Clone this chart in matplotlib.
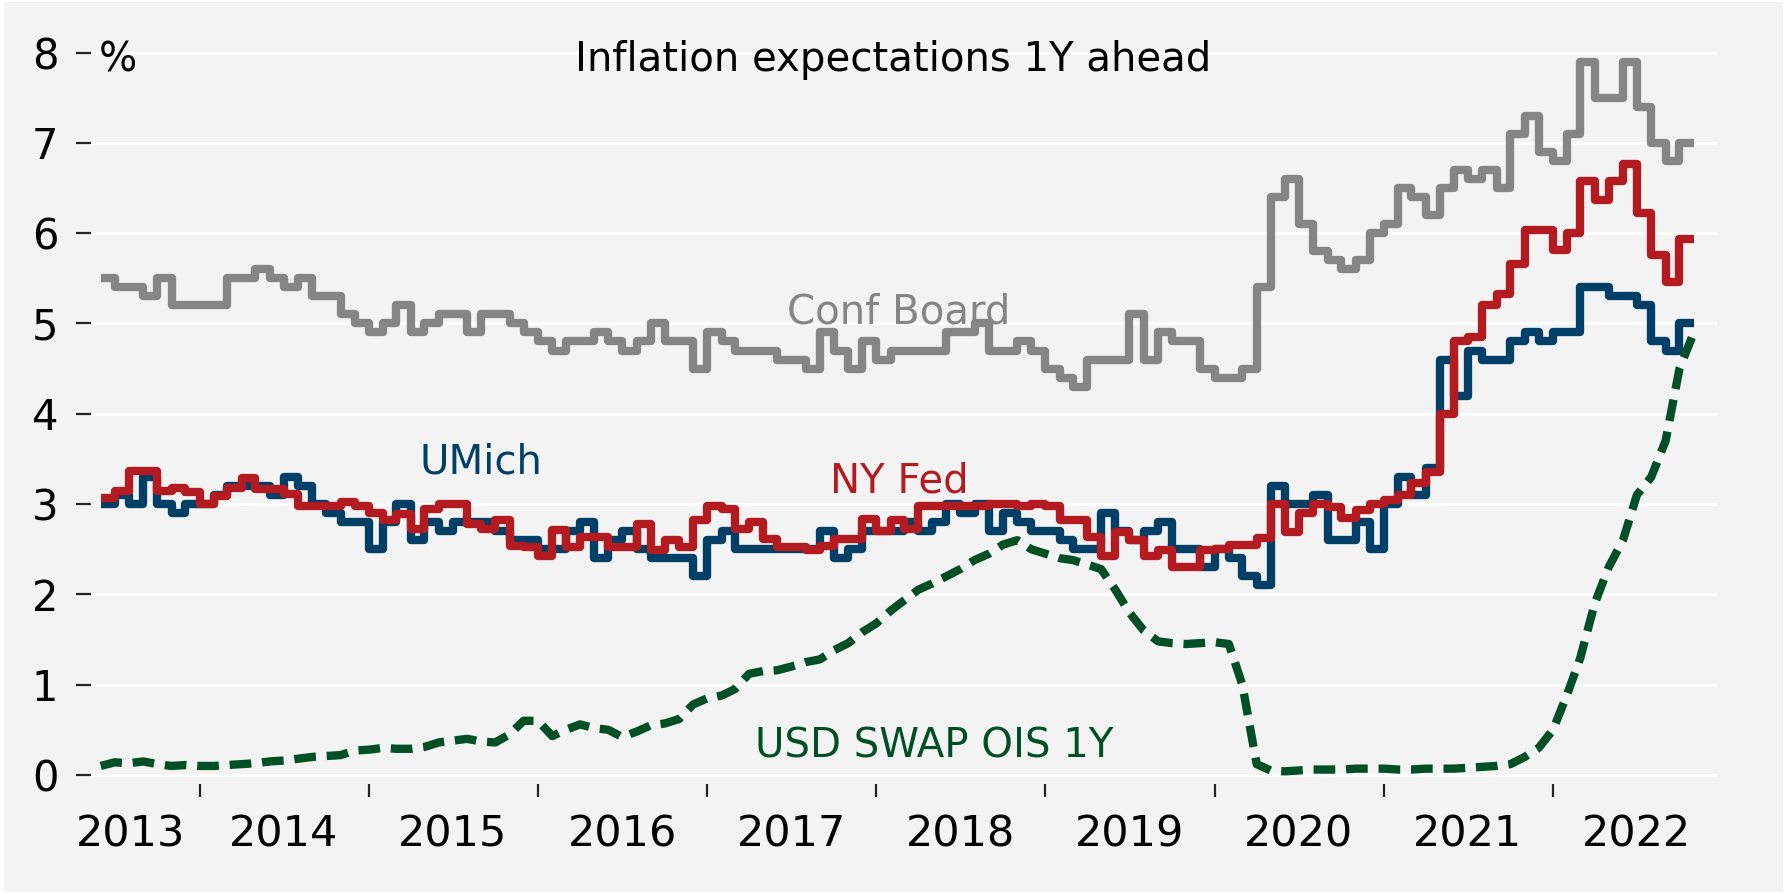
import matplotlib
matplotlib.use('Agg')

import matplotlib.pyplot as plt
import matplotlib.dates as mdates
import matplotlib.patches as patches
import pandas as pd

# monthly survey values, Jun 2013 .. Oct 2022
conf_board = [
    5.5, 5.4, 5.4, 5.3, 5.5, 5.2, 5.2,
    5.2, 5.2, 5.5, 5.5, 5.6, 5.5, 5.4, 5.5, 5.3, 5.3, 5.1, 5.0,
    4.9, 5.0, 5.2, 4.9, 5.0, 5.1, 5.1, 4.9, 5.1, 5.1, 5.0, 4.9,
    4.8, 4.7, 4.8, 4.8, 4.9, 4.8, 4.7, 4.8, 5.0, 4.8, 4.8, 4.5,
    4.9, 4.8, 4.7, 4.7, 4.7, 4.6, 4.6, 4.5, 4.9, 4.7, 4.5, 4.8,
    4.6, 4.7, 4.7, 4.7, 4.7, 4.9, 4.9, 5.0, 4.7, 4.7, 4.8, 4.7,
    4.5, 4.4, 4.3, 4.6, 4.6, 4.6, 5.1, 4.6, 4.9, 4.8, 4.8, 4.5,
    4.4, 4.4, 4.5, 5.4, 6.4, 6.6, 6.1, 5.8, 5.7, 5.6, 5.7, 6.0,
    6.1, 6.5, 6.4, 6.2, 6.5, 6.7, 6.6, 6.7, 6.5, 7.1, 7.3, 6.9,
    6.8, 7.1, 7.9, 7.5, 7.5, 7.9, 7.4, 7.0, 6.8, 7.0,
]
umich = [
    3.0, 3.1, 3.0, 3.3, 3.0, 2.9, 3.0,
    3.0, 3.1, 3.2, 3.2, 3.2, 3.1, 3.3, 3.2, 3.0, 2.9, 2.8, 2.8,
    2.5, 2.8, 3.0, 2.6, 2.8, 2.7, 2.8, 2.8, 2.8, 2.7, 2.6, 2.6,
    2.5, 2.5, 2.7, 2.8, 2.4, 2.6, 2.7, 2.5, 2.4, 2.4, 2.4, 2.2,
    2.6, 2.7, 2.5, 2.5, 2.5, 2.5, 2.5, 2.5, 2.7, 2.4, 2.5, 2.7,
    2.7, 2.7, 2.8, 2.7, 2.8, 3.0, 2.9, 3.0, 2.7, 2.9, 2.8, 2.7,
    2.7, 2.6, 2.5, 2.5, 2.9, 2.7, 2.6, 2.7, 2.8, 2.5, 2.5, 2.3,
    2.5, 2.4, 2.2, 2.1, 3.2, 3.0, 3.0, 3.1, 2.6, 2.6, 2.8, 2.5,
    3.0, 3.3, 3.1, 3.4, 4.6, 4.2, 4.7, 4.6, 4.6, 4.8, 4.9, 4.8,
    4.9, 4.9, 5.4, 5.4, 5.3, 5.3, 5.2, 4.8, 4.7, 5.0,
]
ny_fed = [
    3.07, 3.15, 3.37, 3.37, 3.15, 3.18, 3.13,
    3.00, 3.09, 3.18, 3.29, 3.17, 3.17, 3.11, 2.98, 2.98, 2.98, 3.02, 2.98,
    2.90, 2.82, 2.89, 2.72, 2.94, 3.00, 3.00, 2.78, 2.72, 2.82, 2.54, 2.52,
    2.43, 2.71, 2.52, 2.63, 2.63, 2.52, 2.52, 2.78, 2.49, 2.60, 2.52, 2.82,
    2.98, 2.94, 2.72, 2.80, 2.61, 2.52, 2.52, 2.49, 2.54, 2.61, 2.61, 2.83,
    2.70, 2.82, 2.72, 2.98, 2.98, 2.98, 2.98, 2.98, 3.00, 3.00, 2.98, 3.00,
    2.98, 2.82, 2.82, 2.63, 2.43, 2.69, 2.60, 2.43, 2.49, 2.30, 2.30, 2.49,
    2.50, 2.55, 2.55, 2.62, 3.00, 2.69, 2.90, 3.00, 2.97, 2.84, 2.93, 3.00,
    3.04, 3.10, 3.23, 3.36, 4.00, 4.80, 4.85, 5.20, 5.33, 5.66, 6.03, 6.03,
    5.81, 6.00, 6.58, 6.37, 6.58, 6.77, 6.22, 5.76, 5.46, 5.94,
]
# USD OIS 1Y, start of month, Jun 2013 .. Nov 2022
ois_1y = [
    0.10, 0.14, 0.13, 0.15, 0.12, 0.10, 0.11,
    0.10, 0.10, 0.11, 0.12, 0.13, 0.15, 0.16, 0.18, 0.20, 0.21, 0.22, 0.27,
    0.28, 0.30, 0.29, 0.29, 0.31, 0.36, 0.38, 0.40, 0.37, 0.36, 0.45, 0.60,
    0.60, 0.43, 0.50, 0.56, 0.52, 0.50, 0.42, 0.48, 0.55, 0.57, 0.62, 0.78,
    0.85, 0.88, 0.95, 1.12, 1.15, 1.16, 1.20, 1.25, 1.28, 1.38, 1.46, 1.58,
    1.68, 1.82, 1.93, 2.05, 2.12, 2.20, 2.28, 2.38, 2.45, 2.55, 2.60, 2.50,
    2.45, 2.40, 2.38, 2.33, 2.28, 2.05, 1.80, 1.60, 1.48, 1.46, 1.45, 1.46,
    1.47, 1.45, 1.00, 0.12, 0.05, 0.04, 0.05, 0.06, 0.06, 0.06, 0.07, 0.07,
    0.07, 0.06, 0.06, 0.07, 0.07, 0.07, 0.08, 0.09, 0.10, 0.12, 0.20, 0.30,
    0.50, 0.90, 1.30, 1.90, 2.30, 2.60, 3.10, 3.30, 3.70, 4.50, 4.90,
]
year_labels = ['2013', '2014', '2015', '2016', '2017', '2018', '2019', '2020', '2021', '2022']

months = pd.date_range('2013-06-01', '2022-11-01', freq='MS')
edges = mdates.date2num(months)

BG = '#f3f3f3'
GRAY = '#858585'
NAVY = '#003f66'
RED = '#b41b21'
GREEN = '#004f27'
FS = 29
LW = 6

fig = plt.figure(figsize=(17.87, 8.94), dpi=100, facecolor='white')
fig.add_artist(patches.Rectangle((4 / 1787, 2 / 894), 1 - 8 / 1787, 1 - 4 / 894,
                                 transform=fig.transFigure, facecolor=BG,
                                 edgecolor='none', zorder=-10))
ax = fig.add_axes([91 / 1787, 110 / 894, 1626 / 1787, 736 / 894])
ax.set_facecolor(BG)

ax.stairs(conf_board, edges, baseline=None, color=GRAY, linewidth=LW, joinstyle='round')
ax.stairs(umich, edges, baseline=None, color=NAVY, linewidth=LW, joinstyle='round')
ax.stairs(ny_fed, edges, baseline=None, color=RED, linewidth=LW, joinstyle='round')
ax.plot(edges, ois_1y, color=GREEN, linewidth=LW, linestyle=(0, (2.6, 1.3)))

ax.set_xlim(mdates.date2num(pd.Timestamp('2013-05-11')),
            mdates.date2num(pd.Timestamp('2022-12-21')))
ax.set_ylim(-0.1, 8.05)

# year boundaries as ticks, year names in between
jan1 = mdates.date2num(pd.date_range('2014-01-01', '2022-01-01', freq='YS'))
mid = [mdates.date2num(pd.Timestamp('2013-08-05'))] + \
      list(mdates.date2num(pd.date_range('2014-07-01', '2022-07-01', freq='12MS')))
ax.set_xticks(jan1)
ax.set_xticks(mid, year_labels, minor=True)
ax.tick_params(axis='x', which='major', length=9.5, width=1.6, color='#222222',
               labelbottom=False)
ax.tick_params(axis='x', which='minor', length=0, pad=21, labelsize=31)

ax.set_yticks(range(9))
ax.tick_params(axis='y', length=10.5, width=1.6, color='#222222', pad=13, labelsize=30)
ax.yaxis.grid(True, color='white', linewidth=2.2)
ax.set_axisbelow(True)
for s in ax.spines.values():
    s.set_visible(False)

fig.text(0.5, 1 - 71 / 894, 'Inflation expectations 1Y ahead', fontsize=FS,
         ha='center', va='baseline')
fig.text(99 / 1787, 1 - 71 / 894, '%', fontsize=FS, ha='left', va='baseline')

def lab(txt, day, y, c):
    ax.text(mdates.date2num(pd.Timestamp(day)), y, txt, color=c, fontsize=FS,
            ha='center', va='baseline')

lab('Conf Board', '2018-02-19', 5.0, GRAY)
lab('UMich', '2015-08-31', 3.34, NAVY)
lab('NY Fed', '2018-02-20', 3.13, RED)
lab('USD SWAP OIS 1Y', '2018-05-05', 0.19, GREEN)

fig.savefig('out.png', dpi=100, facecolor=fig.get_facecolor())
